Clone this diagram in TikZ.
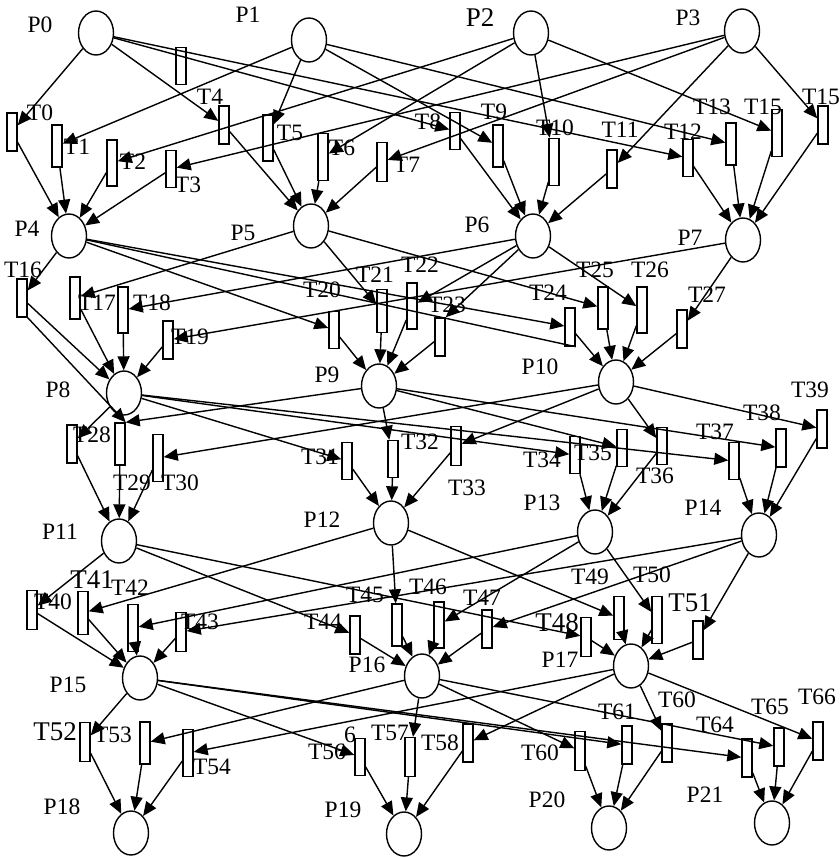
\documentclass[tikz,border=0pt]{standalone}
\usepackage{fontspec}
\setmainfont{Liberation Serif}
\usetikzlibrary{shapes.geometric, arrows.meta}
\tikzset{
    lugar/.style={draw, ellipse, line width=1.4pt, minimum width=35pt, minimum height=44pt, inner sep=0pt},
    transicao/.style={draw, rectangle, line width=1.4pt, minimum width=10pt, minimum height=38pt, inner sep=0pt},
    arco/.style={line width=1.4pt, -{Triangle[length=14pt,width=12pt]}},
    traco/.style={line width=1.4pt},
    rotulo/.style={font=\fontsize{23.5}{23.5}\selectfont, inner sep=0pt},
    rotulog/.style={font=\fontsize{27}{27}\selectfont, inner sep=0pt}
}

\begin{document}
\begin{tikzpicture}[x=1pt, y=-1pt]
    \useasboundingbox (0,0) rectangle (839,858);
    % lugares
    \node[lugar] (P0) at (96,33) {};
    \node[lugar] (P1) at (309,40) {};
    \node[lugar] (P2) at (531,33) {};
    \node[lugar] (P3) at (742,31) {};
    \node[lugar] (P4) at (69,236) {};
    \node[lugar] (P5) at (311,226) {};
    \node[lugar] (P6) at (533,236) {};
    \node[lugar] (P7) at (743,240) {};
    \node[lugar] (P8) at (124,393) {};
    \node[lugar] (P9) at (379,386) {};
    \node[lugar] (P10) at (616,382) {};
    \node[lugar] (P11) at (119,541) {};
    \node[lugar] (P12) at (391,523) {};
    \node[lugar] (P13) at (595,532) {};
    \node[lugar] (P14) at (759,535) {};
    \node[lugar] (P15) at (140,678) {};
    \node[lugar] (P16) at (422,676) {};
    \node[lugar] (P17) at (631,666) {};
    \node[lugar] (P18) at (131,833) {};
    \node[lugar] (P19) at (404,834) {};
    \node[lugar] (P20) at (609,828) {};
    \node[lugar] (P21) at (772,823) {};
    % transicoes
    \node[transicao, minimum height=37pt] (Tx) at (181,66) {};
    \node[transicao] (T0) at (12,132) {};
    \node[transicao, minimum height=42pt] (T1) at (57,146) {};
    \node[transicao, minimum height=46pt] (T2) at (112,163) {};
    \node[transicao, minimum height=37pt] (T3) at (171,169) {};
    \node[transicao] (T4) at (224,125) {};
    \node[transicao, minimum height=46pt] (T5) at (268,138) {};
    \node[transicao, minimum height=47pt] (T6) at (323,157) {};
    \node[transicao, minimum height=39pt] (T7) at (382,162) {};
    \node[transicao, minimum height=37pt] (T8) at (455,131) {};
    \node[transicao, minimum height=42pt] (T9) at (498,146) {};
    \node[transicao, minimum height=47pt] (T10) at (554,162) {};
    \node[transicao] (T11) at (612,169) {};
    \node[transicao, minimum height=37pt] (T12) at (688,158) {};
    \node[transicao, minimum height=42pt] (T13) at (731,144) {};
    \node[transicao, minimum height=47pt] (T15a) at (777,133) {};
    \node[transicao] (T15b) at (823,125) {};
    \node[transicao] (T16) at (22,298) {};
    \node[transicao, minimum height=42pt] (T17) at (75,298) {};
    \node[transicao, minimum height=46pt] (T18) at (123,310) {};
    \node[transicao] (T19) at (168,340) {};
    \node[transicao, minimum height=37pt] (T20) at (334,330) {};
    \node[transicao, minimum height=43pt] (T21) at (382,311) {};
    \node[transicao, minimum height=46pt] (T22) at (412,306) {};
    \node[transicao] (T23) at (440,337) {};
    \node[transicao] (T24) at (570,327) {};
    \node[transicao, minimum height=42pt] (T25) at (603,308) {};
    \node[transicao, minimum height=46pt] (T26) at (642,310) {};
    \node[transicao] (T27) at (682,329) {};
    \node[transicao] (T28) at (72,444) {};
    \node[transicao, minimum height=42pt] (T29) at (120,444) {};
    \node[transicao, minimum height=47pt] (T30) at (158,458) {};
    \node[transicao, minimum height=37pt] (T31) at (347,461) {};
    \node[transicao, minimum height=37pt] (T32) at (393,459) {};
    \node[transicao, minimum height=39pt] (T33) at (456,446) {};
    \node[transicao, minimum height=37pt] (T34) at (575,455) {};
    \node[transicao, minimum height=37pt] (T35) at (622,448) {};
    \node[transicao, minimum height=37pt] (T36) at (662,446) {};
    \node[transicao, minimum height=37pt] (T37) at (734,461) {};
    \node[transicao] (T38) at (781,448) {};
    \node[transicao] (T39) at (822,429) {};
    \node[transicao, minimum height=39pt] (T40) at (32,610) {};
    \node[transicao, minimum height=43pt] (T41) at (83,613) {};
    \node[transicao, minimum height=47pt] (T42) at (133,628) {};
    \node[transicao, minimum height=39pt] (T43) at (181,632) {};
    \node[transicao] (T44) at (355,635) {};
    \node[transicao, minimum height=42pt] (T45) at (397,625) {};
    \node[transicao, minimum height=46pt] (T46) at (439,625) {};
    \node[transicao] (T47) at (487,629) {};
    \node[transicao, minimum height=39pt] (T48) at (586,637) {};
    \node[transicao, minimum height=43pt] (T49) at (619,618) {};
    \node[transicao, minimum height=47pt] (T50) at (657,620) {};
    \node[transicao] (T51) at (698,640) {};
    \node[transicao, minimum height=39pt] (T52) at (85,742) {};
    \node[transicao, minimum height=42pt] (T53) at (145,743) {};
    \node[transicao, minimum height=47pt] (T54) at (188,753) {};
    \node[transicao, minimum height=37pt] (T56) at (360,757) {};
    \node[transicao, minimum height=39pt] (T57) at (410,757) {};
    \node[transicao] (T58) at (468,743) {};
    \node[transicao, minimum height=39pt] (T60a) at (580,751) {};
    \node[transicao] (T61) at (627,745) {};
    \node[transicao] (T60b) at (667,743) {};
    \node[transicao] (T64) at (747,758) {};
    \node[transicao] (T65) at (779,747) {};
    \node[transicao] (T66) at (818,741) {};
    % rotulos dos lugares
    \node[rotulo] (lP0) at (40,25) {P0};
    \node[rotulo] (lP1) at (248,15) {P1};
    \node[rotulog] (lP2) at (480,18) {P2};
    \node[rotulo] (lP3) at (688,18) {P3};
    \node[rotulo] (lP4) at (27,229) {P4};
    \node[rotulo] (lP5) at (243,233) {P5};
    \node[rotulo] (lP6) at (477,225) {P6};
    \node[rotulo] (lP7) at (690,238) {P7};
    \node[rotulo] (lP8) at (58,390) {P8};
    \node[rotulo] (lP9) at (327,375) {P9};
    \node[rotulo] (lP10) at (540,367) {P10};
    \node[rotulo] (lP11) at (60,532) {P11};
    \node[rotulo] (lP12) at (322,520) {P12};
    \node[rotulo] (lP13) at (542,503) {P13};
    \node[rotulo] (lP14) at (703,508) {P14};
    \node[rotulo] (lP15) at (68,685) {P15};
    \node[rotulo] (lP16) at (367,665) {P16};
    \node[rotulo] (lP17) at (560,660) {P17};
    \node[rotulo] (lP18) at (62,807) {P18};
    \node[rotulo] (lP19) at (343,810) {P19};
    \node[rotulo] (lP20) at (547,800) {P20};
    \node[rotulo] (lP21) at (705,795) {P21};
    % rotulos das transicoes
    \node[rotulo] (lT0) at (40,113) {T0};
    \node[rotulo] (lT1) at (77,147) {T1};
    \node[rotulo] (lT2) at (133,162) {T2};
    \node[rotulo] (lT3) at (188,185) {T3};
    \node[rotulo] (lT4) at (210,97) {T4};
    \node[rotulo] (lT5) at (290,133) {T5};
    \node[rotulo] (lT6) at (342,148) {T6};
    \node[rotulo] (lT7) at (407,165) {T7};
    \node[rotulo] (lT8) at (428,122) {T8};
    \node[rotulo] (lT9) at (494,112) {T9};
    \node[rotulo] (lT10) at (555,128) {T10};
    \node[rotulo] (lT11) at (620,130) {T11};
    \node[rotulo] (lT12) at (683,132) {T12};
    \node[rotulo] (lT13) at (712,107) {T13};
    \node[rotulo] (lT15a) at (763,107) {T15};
    \node[rotulo] (lT15b) at (821,97) {T15};
    \node[rotulo] (lT16) at (23,270) {T16};
    \node[rotulo] (lT17) at (97,303) {T17};
    \node[rotulo] (lT18) at (152,303) {T18};
    \node[rotulo] (lT19) at (190,337) {T19};
    \node[rotulo] (lT20) at (322,290) {T20};
    \node[rotulo] (lT21) at (375,275) {T21};
    \node[rotulo] (lT22) at (420,265) {T22};
    \node[rotulo] (lT23) at (447,305) {T23};
    \node[rotulo] (lT24) at (548,293) {T24};
    \node[rotulo] (lT25) at (595,270) {T25};
    \node[rotulo] (lT26) at (650,270) {T26};
    \node[rotulo] (lT27) at (707,295) {T27};
    \node[rotulo] (lT28) at (92,435) {T28};
    \node[rotulo] (lT29) at (132,483) {T29};
    \node[rotulo] (lT30) at (180,483) {T30};
    \node[rotulo] (lT31) at (320,457) {T31};
    \node[rotulo] (lT32) at (420,442) {T32};
    \node[rotulo] (lT33) at (467,488) {T33};
    \node[rotulo] (lT34) at (542,460) {T34};
    \node[rotulo] (lT35) at (593,453) {T35};
    \node[rotulo] (lT36) at (655,476) {T36};
    \node[rotulo] (lT37) at (715,432) {T37};
    \node[rotulo] (lT38) at (762,413) {T38};
    \node[rotulo] (lT39) at (810,390) {T39};
    \node[rotulo] (lT40) at (53,602) {T40};
    \node[rotulog] (lT41) at (92,580) {T41};
    \node[rotulo] (lT42) at (130,588) {T42};
    \node[rotulo] (lT43) at (200,622) {T43};
    \node[rotulo] (lT44) at (323,622) {T44};
    \node[rotulo] (lT45) at (365,595) {T45};
    \node[rotulo] (lT46) at (428,587) {T46};
    \node[rotulo] (lT47) at (482,598) {T47};
    \node[rotulog] (lT48) at (557,623) {T48};
    \node[rotulo] (lT49) at (590,577) {T49};
    \node[rotulo] (lT50) at (652,575) {T50};
    \node[rotulog] (lT51) at (690,603) {T51};
    \node[rotulog] (lT52) at (55,732) {T52};
    \node[rotulo] (lT53) at (113,735) {T53};
    \node[rotulo] (lT54) at (212,767) {T54};
    \node[rotulo] (lT56) at (327,752) {T56};
    \node[rotulo] (lseis) at (350,735) {6};
    \node[rotulo] (lT57) at (390,733) {T57};
    \node[rotulo] (lT58) at (440,743) {T58};
    \node[rotulo] (lT60a) at (540,753) {T60};
    \node[rotulo] (lT61) at (617,712) {T61};
    \node[rotulo] (lT60b) at (677,700) {T60};
    \node[rotulo] (lT64) at (715,725) {T64};
    \node[rotulo] (lT65) at (770,707) {T65};
    \node[rotulo] (lT66) at (817,697) {T66};
    % arcos P0-P3 -> T0-T15
    \draw[arco] (P0) -- (T0);
    \draw[arco] (P0) -- (T4);
    \draw[arco] (P0) -- (T8);
    \draw[arco] (P0) -- (T12);
    \draw[arco] (P1) -- (T1);
    \draw[arco] (P1) -- (T5);
    \draw[arco] (P1) -- (T9);
    \draw[arco] (P1) -- (T13);
    \draw[arco] (P2) -- (T2);
    \draw[arco] (P2) -- (T6);
    \draw[arco] (P2) -- (T10);
    \draw[arco] (P2) -- (T15a);
    \draw[arco] (P3) -- (T3);
    \draw[arco] (P3) -- (T7);
    \draw[arco] (P3) -- (T11);
    \draw[arco] (P3) -- (T15b);
    % T0-T15 -> P4-P7
    \draw[arco] (T0) -- (P4);
    \draw[arco] (T1) -- (P4);
    \draw[arco] (T2) -- (P4);
    \draw[arco] (T3) -- (P4);
    \draw[arco] (T4) -- (P5);
    \draw[arco] (T5) -- (P5);
    \draw[arco] (T6) -- (P5);
    \draw[arco] (T7) -- (P5);
    \draw[arco] (T8) -- (P6);
    \draw[arco] (T9) -- (P6);
    \draw[arco] (T10) -- (P6);
    \draw[arco] (T11) -- (P6);
    \draw[arco] (T12) -- (P7);
    \draw[arco] (T13) -- (P7);
    \draw[arco] (T15a) -- (P7);
    \draw[arco] (T15b) -- (P7);
    % P4-P7 -> T16-T27
    \draw[arco] (P4) -- (T16);
    \draw[arco] (P4) -- (T20);
    \draw[arco] (P4) -- (T24);
    \draw[traco] (P4) -- (T24.south east);
    \draw[arco] (P5) -- (T17);
    \draw[arco] (P5) -- (T21);
    \draw[arco] (P5) -- (T25);
    \draw[arco] (P6) -- (T18);
    \draw[arco] (P6) -- (T22);
    \draw[arco] (P6) -- (T23.north east);
    \draw[arco] (P6) -- (T26);
    \draw[arco] (P7) -- (T19);
    \draw[arco] (P7) -- (T27);
    % T16-T27 -> P8-P10
    \draw[arco] (T16) -- (P8);
    \draw[arco] (T16.south east) -- (T29.north east);
    \draw[arco] (T17) -- (P8);
    \draw[arco] (T18) -- (P8);
    \draw[arco] (T19) -- (P8);
    \draw[arco] (T20) -- (P9);
    \draw[arco] (T21) -- (P9);
    \draw[arco] (T22) -- (P9);
    \draw[arco] (T23) -- (P9);
    \draw[arco] (T24) -- (P10);
    \draw[arco] (T25) -- (P10);
    \draw[arco] (T26) -- (P10);
    \draw[arco] (T27) -- (P10);
    % P8-P10 -> T28-T39
    \draw[arco] (P8) -- (T28);
    \draw[arco] (P8) -- (T31);
    \draw[arco] (P8) -- (T34);
    \draw[arco] (P8) -- (T37);
    \draw[arco] (P9) -- (T29.north east);
    \draw[arco] (P9) -- (T32);
    \draw[arco] (P9) -- (T35);
    \draw[arco] (P9) -- (T38);
    \draw[arco] (P10) -- (T30);
    \draw[arco] (P10) -- (T33);
    \draw[arco] (P10) -- (T36);
    \draw[arco] (P10) -- (T39);
    % T28-T39 -> P11-P14
    \draw[arco] (T28) -- (P11);
    \draw[arco] (T29) -- (P11);
    \draw[arco] (T30) -- (P11);
    \draw[arco] (T31) -- (P12);
    \draw[arco] (T32) -- (P12);
    \draw[arco] (T33) -- (P12);
    \draw[arco] (T34) -- (P13);
    \draw[arco] (T35) -- (P13);
    \draw[arco] (T36) -- (P13);
    \draw[arco] (T37) -- (P14);
    \draw[arco] (T38) -- (P14);
    \draw[arco] (T39) -- (P14);
    % P11-P14 -> T40-T51
    \draw[arco] (P11) -- (T40);
    \draw[arco] (P11) -- (T44);
    \draw[arco] (P11) -- (T48);
    \draw[arco] (P12) -- (T41);
    \draw[arco] (P12) -- (T45);
    \draw[arco] (P12) -- (T49);
    \draw[arco] (P13) -- (T42);
    \draw[arco] (P13) -- (T46);
    \draw[arco] (P13) -- (T50);
    \draw[arco] (P14) -- (T43);
    \draw[arco] (P14) -- (T47);
    \draw[arco] (P14) -- (T51);
    % T40-T51 -> P15-P17
    \draw[arco] (T40) -- (P15);
    \draw[arco] (T41) -- (P15);
    \draw[arco] (T42) -- (P15);
    \draw[arco] (T43) -- (P15);
    \draw[arco] (T44) -- (P16);
    \draw[arco] (T45) -- (P16);
    \draw[arco] (T46) -- (P16);
    \draw[arco] (T47) -- (P16);
    \draw[arco] (T48) -- (P17);
    \draw[arco] (T49) -- (P17);
    \draw[arco] (T50) -- (P17);
    \draw[arco] (T51) -- (P17);
    % P15-P17 -> T52-T66
    \draw[arco] (P15) -- (T52);
    \draw[arco] (P15) -- (T56);
    \draw[arco] (P15) -- (T61);
    \draw[arco] (P15) -- (T64);
    \draw[arco] (P16) -- (T53);
    \draw[arco] (P16) -- (T57);
    \draw[arco] (P16) -- (T60a);
    \draw[arco] (P16) -- (T65);
    \draw[arco] (P17) -- (T54);
    \draw[arco] (P17) -- (T58);
    \draw[arco] (P17) -- (T60b);
    \draw[arco] (P17) -- (T66);
    % T52-T66 -> P18-P21
    \draw[arco] (T52) -- (P18);
    \draw[arco] (T53) -- (P18);
    \draw[arco] (T54) -- (P18);
    \draw[arco] (T56) -- (P19);
    \draw[arco] (T57) -- (P19);
    \draw[arco] (T58) -- (P19);
    \draw[arco] (T60a) -- (P20);
    \draw[arco] (T61) -- (P20);
    \draw[arco] (T60b) -- (P20);
    \draw[arco] (T64) -- (P21);
    \draw[arco] (T65) -- (P21);
    \draw[arco] (T66) -- (P21);
\end{tikzpicture}
\end{document}
